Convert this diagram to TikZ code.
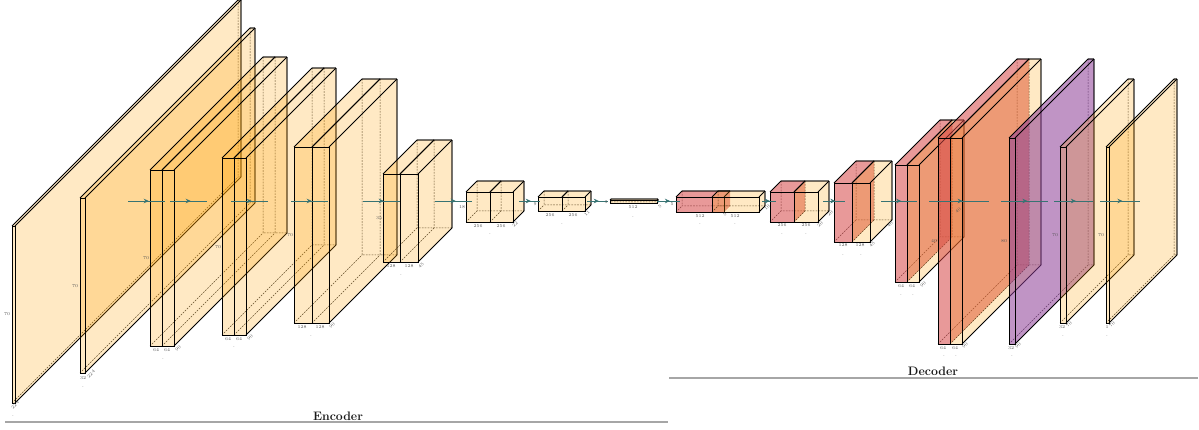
\documentclass[tikz,border=0pt]{standalone}
\usetikzlibrary{arrows.meta,decorations.markings}
\definecolor{ebeige}{RGB}{255,160,0}
\definecolor{dred}{RGB}{214,70,70}
\definecolor{dpurp}{RGB}{140,60,150}
\definecolor{flow}{RGB}{55,115,115}
\definecolor{lab}{RGB}{85,85,85}
\tikzset{
  x=1pt,y=-1pt,
  edgeline/.style={draw=black,line width=.95pt,line join=miter},
  sideline/.style={draw=black,line width=.75pt},
  backline/.style={draw=black,draw opacity=.55,line width=1.1pt},
  hidden/.style={draw=black,draw opacity=.8,line width=.5pt,dash pattern=on 1.7pt off 1.2pt},
  dimlabel/.style={font=\fontsize{4.4}{5}\selectfont,text=lab,inner sep=0pt},
  dotlabel/.style={font=\fontsize{4.6}{5}\selectfont,inner sep=0pt},
  flowline/.style={draw=flow,line width=.7pt,postaction={decorate},
    decoration={markings,mark=at position .56 with {\arrow[flow]{Stealth[length=5pt,width=4.6pt]}}}},
  section/.style={font=\fontsize{12.3}{13}\selectfont\bfseries,text=black!90,inner sep=0pt},
  secrule/.style={draw=black!35,line width=1.3pt},
}
% \cub{name}{x}{ytop}{w}{h}{d}{colour}{opacity}{side: 0 none, 1 fill only, 2 full}
\newcommand{\cub}[9]{%
  \pgfmathsetmacro\xa{#2}\pgfmathsetmacro\xb{#2+#4}%
  \pgfmathsetmacro\ya{#3}\pgfmathsetmacro\yb{#3+#5}%
  \pgfmathsetmacro\xc{#2+#6}\pgfmathsetmacro\xd{#2+#4+#6}%
  \pgfmathsetmacro\yc{#3-#6}\pgfmathsetmacro\yd{#3+#5-#6}%
  \draw[hidden] (\xa,\yb) -- (\xc,\yd) (\xc,\yc) -- (\xc,\yd) -- (\xd,\yd);
  \fill[#7,fill opacity=#8] (\xa,\ya) rectangle (\xb,\yb);
  \fill[#7,fill opacity=#8] (\xa,\ya) -- (\xb,\ya) -- (\xd,\yc) -- (\xc,\yc) -- cycle;
  \ifnum#9>0 \fill[#7,fill opacity=#8] (\xb,\ya) -- (\xd,\yc) -- (\xd,\yd) -- (\xb,\yb) -- cycle;\fi
  \ifnum#9>1
    \draw[edgeline] (\xb,\yb) -- (\xd,\yd);
    \draw[backline] (\xd,\yc) -- (\xd,\yd);
  \fi
  \draw[sideline] (\xa,\ya) -- (\xc,\yc) (\xb,\ya) -- (\xd,\yc);
  \draw[backline] (\xc,\yc) -- (\xd,\yc);
  \draw[edgeline] (\xa,\ya) rectangle (\xb,\yb);
}
\newcommand{\dl}[4]{\node[dimlabel,rotate=#4] at (#1,#2) {#3};}
\newcommand{\dt}[2]{\node[dotlabel] at (#1,#2) {.};}
\begin{document}
\begin{tikzpicture}
\useasboundingbox (0,0) rectangle (1199,430);
\begin{scope}
\clip (0,0) rectangle (1199,430);
% encoder
\cub{a}{12}{226}{3}{177}{226}{ebeige}{.23}{2}
\cub{b}{80}{198}{5}{175}{170}{ebeige}{.23}{2}
\cub{c1}{150}{170}{12}{176}{113}{ebeige}{.23}{0}
\cub{c2}{162}{170}{12}{176}{113}{ebeige}{.23}{2}
\cub{d1}{222}{158}{12}{177}{90}{ebeige}{.23}{0}
\cub{d2}{234}{158}{12}{177}{90}{ebeige}{.23}{2}
\cub{e1}{294}{147}{18}{176}{68}{ebeige}{.23}{0}
\cub{e2}{312}{147}{17}{176}{68}{ebeige}{.23}{2}
\cub{f1}{383}{174}{17}{88}{34}{ebeige}{.23}{0}
\cub{f2}{400}{174}{18}{88}{34}{ebeige}{.23}{2}
\cub{g1}{466}{192}{24}{30}{11}{ebeige}{.23}{0}
\cub{g2}{490}{192}{23}{30}{11}{ebeige}{.23}{2}
\cub{h1}{538}{197}{24}{14}{6}{ebeige}{.23}{0}
\cub{h2}{562}{197}{23}{14}{6}{ebeige}{.23}{2}
\cub{i}{610}{200}{47}{3}{1}{ebeige}{.23}{2}
% decoder
\cub{j1}{676}{197}{48}{15}{6}{dred}{.55}{1}
\cub{j2}{712}{197}{47}{15}{6}{ebeige}{.23}{2}
\cub{k1}{770}{192}{24}{30}{11}{dred}{.55}{1}
\cub{k2}{794}{192}{24}{30}{11}{ebeige}{.23}{2}
\cub{l1}{834}{183}{18}{59}{22}{dred}{.55}{1}
\cub{l2}{852}{183}{18}{59}{22}{ebeige}{.23}{2}
\cub{m1}{895}{165}{12}{117}{45}{dred}{.55}{1}
\cub{m2}{907}{165}{12}{117}{45}{ebeige}{.23}{2}
\cub{n1}{938}{138}{12}{206}{79}{dred}{.55}{1}
\cub{n2}{950}{138}{12}{206}{79}{ebeige}{.23}{2}
\cub{o}{1009}{138}{6}{206}{79}{dpurp}{.55}{2}
\cub{p}{1060}{147}{6}{176}{68}{ebeige}{.23}{2}
\cub{q}{1106}{147}{3}{176}{68}{ebeige}{.23}{2}
\end{scope}
% connector anchors
\coordinate (s1) at (128,201);\coordinate (t1) at (165,201);
\coordinate (s2) at (170,201);\coordinate (t2) at (207,201);
\coordinate (s3) at (231,201);\coordinate (t3) at (268,201);
\coordinate (s4) at (291,201);\coordinate (t4) at (328,201);
\coordinate (s5) at (363,201);\coordinate (t5) at (400,201);
\coordinate (s6) at (435,201);\coordinate (t6) at (472,201);
\coordinate (s7) at (519,201);\coordinate (t7) at (540,201);
\coordinate (s8) at (587,201);\coordinate (t8) at (608,201);
\coordinate (s9) at (657,201);\coordinate (t9) at (680,201);
\coordinate (s10) at (762,201);\coordinate (t10) at (776,201);
\coordinate (s11) at (823,201);\coordinate (t11) at (845,201);
\coordinate (s12) at (881,201);\coordinate (t12) at (917,201);
\coordinate (s13) at (929,201);\coordinate (t13) at (989,201);
\coordinate (s14) at (1001,201);\coordinate (t14) at (1048,201);
\coordinate (s15) at (1054,201);\coordinate (t15) at (1093,201);
\coordinate (s16) at (1100,201);\coordinate (t16) at (1140,201);
\foreach \k in {1,...,16} \draw[flowline] (s\k) -- (t\k);
% height labels
\dl{7}{314}{70}{0}\dl{75}{286}{70}{0}\dl{146}{258}{70}{0}\dl{218}{247}{70}{0}\dl{290}{235}{70}{0}
\dl{379}{218}{35}{0}\dl{462}{207}{18}{0}\dl{535}{204}{9}{0}\dl{606}{202}{3}{0}\dl{672}{204}{5}{0}
\dl{934}{241}{40}{0}\dl{1004}{241}{80}{0}\dl{1055}{235}{70}{0}\dl{1101}{235}{70}{0}
% width and depth labels
\dl{156}{350}{64}{0}\dl{167}{350}{64}{0}\dl{178}{348}{90}{45}
\dl{228}{339}{64}{0}\dl{239}{339}{64}{0}\dl{250}{337}{90}{45}
\dl{302}{327}{128}{0}\dl{320}{327}{128}{0}\dl{332}{325}{90}{45}
\dl{391}{266}{128}{0}\dl{409}{266}{128}{0}\dl{421}{265}{45}{45}
\dl{478}{226}{256}{0}\dl{501}{226}{256}{0}\dl{515}{224}{22}{45}
\dl{550}{215}{256}{0}\dl{573}{215}{256}{0}\dl{587}{213}{11}{45}
\dl{633}{207}{512}{0}\dl{660}{206}{5}{45}
\dl{700}{216}{512}{0}\dl{735}{216}{512}{0}\dl{725}{214}{5}{45}\dl{767}{207}{10}{45}
\dl{782}{225}{256}{0}\dl{806}{225}{256}{0}\dl{820}{224}{20}{45}\dl{830}{213}{20}{45}
\dl{843}{245}{128}{0}\dl{860}{245}{128}{0}\dl{872}{244}{45}{45}\dl{890}{224}{40}{45}
\dl{901}{286}{64}{0}\dl{912}{286}{64}{0}\dl{923}{284}{90}{45}\dl{958}{210}{40}{45}
\dl{943}{348}{64}{0}\dl{955}{348}{64}{0}\dl{965}{345}{90}{45}
\dl{1011}{348}{32}{0}\dl{1018}{345}{90}{45}
\dl{1062}{327}{32}{0}\dl{1069}{324}{70}{45}
\dl{1107}{327}{1}{0}\dl{1112}{324}{70}{45}
\dl{15}{405}{224}{45}\dl{83}{378}{32}{0}\dl{91}{374}{224}{45}
% dots
\dt{13}{416}\dt{83}{387}\dt{163}{359}\dt{234}{347}\dt{311}{336}\dt{401}{275}\dt{490}{234}\dt{562}{224}\dt{633}{217}
\dt{700}{224}\dt{735}{224}\dt{782}{234}\dt{806}{234}\dt{843}{255}\dt{861}{255}\dt{901}{295}\dt{913}{295}\dt{944}{356}\dt{956}{356}\dt{1012}{356}\dt{1063}{336}\dt{1107}{336}
% section labels
\node[section] (enc) at (338,416) {Encoder};
\node[section] (dec) at (933,371) {Decoder};
\coordinate (ea) at (5,422);\coordinate (eb) at (668,422);
\coordinate (da) at (669,378);\coordinate (db) at (1198,378);
\draw[secrule] (ea) -- (eb);
\draw[secrule] (da) -- (db);
\end{tikzpicture}
\end{document}
